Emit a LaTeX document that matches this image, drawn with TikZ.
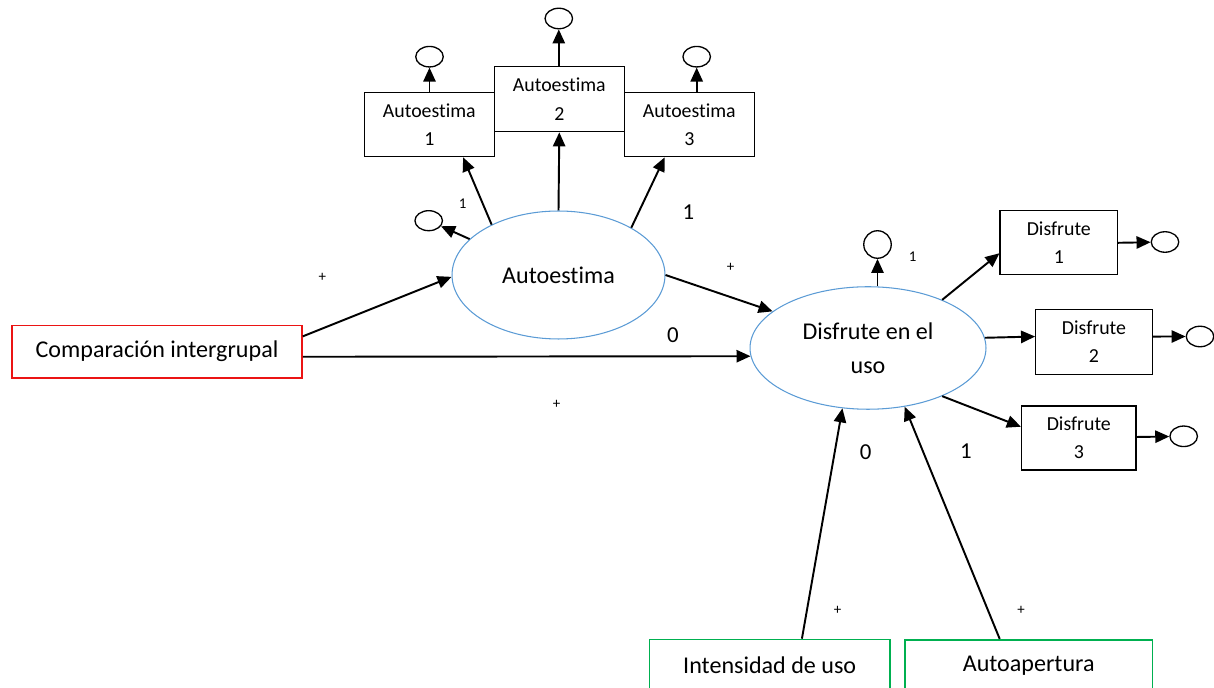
\documentclass[tikz,border=0pt]{standalone}
\usepackage{fontspec}
\setmainfont{Carlito}[Ligatures=NoCommon]
\usetikzlibrary{shapes.geometric,arrows.meta}
\definecolor{lvblue}{RGB}{91,155,213}
\definecolor{obsred}{RGB}{235,20,20}
\definecolor{obsgreen}{RGB}{0,176,80}
\tikzset{
  latent/.style={ellipse,draw=lvblue,line width=0.6pt,inner sep=0pt,align=center,
    font=\fontsize{13.7}{19.3}\selectfont},
  ind/.style={rectangle,draw,line width=0.75pt,minimum width=2.6cm,minimum height=1.28cm,
    inner sep=0pt,align=center,font=\fontsize{11.3}{16}\selectfont},
  err/.style={ellipse,draw,line width=0.75pt,minimum width=0.55cm,minimum height=0.41cm,inner sep=0pt},
  obs/.style={rectangle,line width=0.9pt,minimum height=1.05cm,inner sep=0pt,
    font=\fontsize{13.7}{16}\selectfont},
  coef/.style={inner sep=0pt,font=\fontsize{13}{15}\selectfont},
  small/.style={inner sep=0pt,font=\fontsize{8.5}{10}\selectfont},
}
\begin{document}
\begin{tikzpicture}[x=0.02cm,y=-0.02cm]
      \useasboundingbox (0,0) rectangle (1214,688);
      \draw
        (157,351.7) node[obs,draw=obsred,minimum width=5.8cm] (cmp){Comparación intergrupal}
        (558.5,275) node[latent,minimum width=4.26cm,minimum height=2.56cm] (ae){Autoestima}
        (868,348) node[latent,minimum width=4.72cm,minimum height=2.45cm,text depth=-0.15cm] (dis){Disfrute en el\\uso}
        (429.3,124.7) node[ind] (ae1){Autoestima\\1}
        (559.3,99.2) node[ind,minimum height=1.3cm] (ae2){Autoestima\\2}
        (689.3,124.7) node[ind] (ae3){Autoestima\\3}
        (1058.8,242.8) node[ind,minimum width=2.35cm] (d1){Disfrute\\1}
        (1094,341.7) node[ind,minimum width=2.33cm,minimum height=1.3cm] (d2){Disfrute\\2}
        (1078.8,438) node[ind,minimum width=2.29cm] (d3){Disfrute\\3}
        (769.7,665.7) node[obs,draw=obsgreen,minimum width=4.81cm] (int){Intensidad de uso}
        (1028.7,666) node[obs,draw=obsgreen,minimum width=4.95cm] (ap){Autoapertura}
        (429.5,56.7) node[err] (ea1){}
        (558.8,18.5) node[err] (ea2){}
        (696.7,56.7) node[err] (ea3){}
        (428.7,220.7) node[err,minimum height=0.4cm] (eae){}
        (877.5,244.5) node[err,minimum height=0.55cm] (edis){}
        (1165,242) node[err] (ed1){}
        (1200,336.5) node[err] (ed2){}
        (1183.7,436.3) node[err] (ed3){};
      % coefficients and signs
      \node[small] (l1) at (462.7,204) {1};
      \node[coef] (l2) at (688.3,211.7) {1};
      \node[small] (l3) at (912.7,256.7) {1};
      \node[coef] (l4) at (672.8,335) {0};
      \node[coef] (l5) at (865.7,451.7) {0};
      \node[coef] (l6) at (966,450.7) {1};
      \node[small] (p1) at (322.3,277.7) {+};
      \node[small] (p2) at (730.5,267) {+};
      \node[small] (p3) at (556.5,404) {+};
      \node[small] (p4) at (837.7,610) {+};
      \node[small] (p5) at (1021,610) {+};
      \begin{scope}[-{Triangle[length=8pt,width=7pt]},line width=1.1pt]
        \draw (cmp.6) to (ae.181);
        \draw (cmp.-2.6) to (dis.184);
        \draw (ae.east) to (dis.159);
        \draw (ae.143) to (ae1.-44);
        \draw (ae.north) to (ae2.south);
        \draw (ae.33) to (ae3.233);
        \draw (ae.158) to (eae);
        \draw (ea1 |- ae1.north) to (ea1);
        \draw (ea2 |- ae2.north) to (ea2);
        \draw (ea3 |- ae3.north) to (ea3);
        \draw (edis |- dis.north) to (edis);
        \draw (dis.33) to (d1.190);
        \draw (dis.5.5) to (d2.175);
        \draw (dis.-33) to (d3.169);
        \draw (d1.east) to (ed1);
        \draw (d2.5) to (ed2);
        \draw (d3.1) to (ed3);
        \draw (int.40) to (dis.247);
        \draw (ap.137) to (dis.302);
      \end{scope}
    \end{tikzpicture}
\end{document}
